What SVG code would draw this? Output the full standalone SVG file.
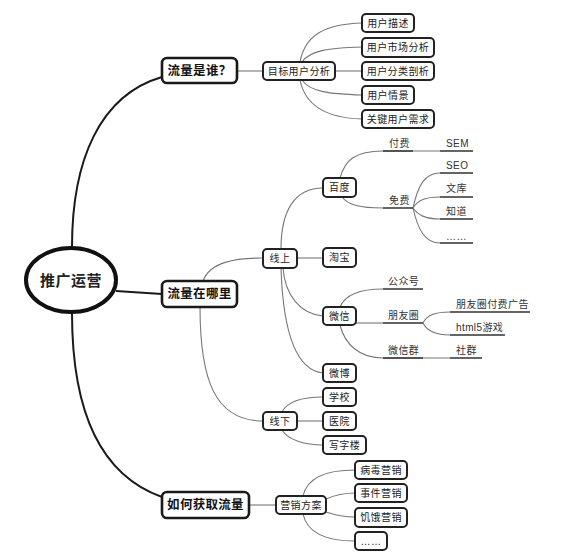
<svg xmlns="http://www.w3.org/2000/svg" width="562" height="560" viewBox="0 0 562 560">
<style>
.bg{fill:#ffffff}
.main{fill:none;stroke:#1a1a1a;stroke-width:2}
.c{fill:none;stroke:#777;stroke-width:1.1}
.ul{fill:none;stroke:#333;stroke-width:1.6}
.root{fill:#fff;stroke:#111;stroke-width:4}
.l1{fill:#fff;stroke:#1a1a1a;stroke-width:2.6}
.b{fill:#fff;stroke:#222;stroke-width:2}
text{font-family:"Liberation Sans","Noto Sans CJK SC",sans-serif;fill:#222;dominant-baseline:central}
.tr{font-size:15px;font-weight:bold;text-anchor:middle;letter-spacing:0.5px}
.t1{font-size:12.5px;font-weight:bold;text-anchor:middle;letter-spacing:0.3px;fill:#111}
.t{font-size:10px;text-anchor:middle;letter-spacing:0.4px}
.tl{font-size:10px;letter-spacing:0.4px;fill:#333}
</style>
<rect class="bg" x="0" y="0" width="562" height="560"/>
<g id="connectors">
<path class="main" d="M72,247 C72,160 100,95 162,77"/>
<path class="main" d="M116,291 L162,294"/>
<path class="main" d="M72,313 C72,410 100,475 162,497"/>
<path class="c" d="M237,71 L263,71"/>
<path class="c" d="M300,62 C305,35 325,24 362,23"/>
<path class="c" d="M302,62 C310,50 330,48 362,47"/>
<path class="c" d="M335,71 L362,71"/>
<path class="c" d="M302,80 C310,92 330,94 362,95"/>
<path class="c" d="M300,80 C305,105 325,118 362,119"/>
<path class="c" d="M203,281 C210,262 235,258 263,258"/>
<path class="c" d="M200,307 C200,380 215,421 263,421"/>
<path class="c" d="M281,249 C281,210 295,188 323,188"/>
<path class="c" d="M297,258 L323,258"/>
<path class="c" d="M283,268 C285,295 300,314 323,316"/>
<path class="c" d="M281,268 C283,330 295,370 323,373"/>
<path class="c" d="M282,412 C288,400 305,397 323,397"/>
<path class="c" d="M297,421 L323,421"/>
<path class="c" d="M282,430 C288,440 305,445 323,445"/>
<path class="c" d="M340,178 C345,160 355,151 383,151 L440,151"/>
<path class="c" d="M342,197 C348,205 360,208 383,208"/>
<path class="c" d="M413,208 C418,185 425,173 440,173"/>
<path class="c" d="M413,208 C418,200 425,197 440,197"/>
<path class="c" d="M413,208 C418,215 425,219 440,219"/>
<path class="c" d="M413,208 C418,230 425,243 440,243"/>
<path class="c" d="M340,307 C345,295 360,289 383,289"/>
<path class="c" d="M356,323 L383,323"/>
<path class="c" d="M423,323 C427,315 435,312 450,312"/>
<path class="c" d="M423,323 C427,331 435,335 450,335"/>
<path class="c" d="M340,325 C345,345 360,358 383,358 L450,358"/>
<path class="c" d="M249,505 L276,505"/>
<path class="c" d="M303,496 C307,478 325,470 355,470"/>
<path class="c" d="M326,499 C335,495 345,493 355,493"/>
<path class="c" d="M326,512 C335,515 345,517 355,517"/>
<path class="c" d="M303,514 C307,532 325,541 355,541"/>
<path class="ul" d="M383,151 L413,151 M440,151 L473,151"/>
<path class="ul" d="M383,208 L413,208 M440,173 L473,173 M440,197 L473,197 M440,219 L473,219 M440,243 L473,243"/>
<path class="ul" d="M383,289 L423,289 M383,323 L423,323 M450,312 L530,312 M450,335 L505,335 M383,358 L423,358 M450,358 L482,358"/>
</g>
<g id="root"><ellipse class="root" cx="71" cy="280" rx="45" ry="32"/><text class="tr" x="71" y="280">推广运营</text></g>
<g id="n-who"><rect class="l1" x="162" y="58" width="75" height="25" rx="5"/><text class="t1" x="199.5" y="70.5">流量是谁？</text></g>
<g id="n-where"><rect class="l1" x="162" y="281" width="75" height="26" rx="5"/><text class="t1" x="199.5" y="294">流量在哪里</text></g>
<g id="n-how"><rect class="l1" x="162" y="492" width="87" height="26" rx="5"/><text class="t1" x="205.5" y="505">如何获取流量</text></g>
<g id="n-target"><rect class="b" x="263" y="62" width="72" height="18" rx="4"/><text class="t" x="299" y="71">目标用户分析</text></g>
<g id="n-u1"><rect class="b" x="362" y="14" width="52" height="18" rx="4"/><text class="t" x="388" y="23">用户描述</text></g>
<g id="n-u2"><rect class="b" x="362" y="38" width="72" height="19" rx="4"/><text class="t" x="398" y="47.5">用户市场分析</text></g>
<g id="n-u3"><rect class="b" x="362" y="62" width="72" height="18" rx="4"/><text class="t" x="398" y="71">用户分类剖析</text></g>
<g id="n-u4"><rect class="b" x="362" y="86" width="52" height="18" rx="4"/><text class="t" x="388" y="95">用户情景</text></g>
<g id="n-u5"><rect class="b" x="362" y="110" width="72" height="18" rx="4"/><text class="t" x="398" y="119">关键用户需求</text></g>
<g id="n-online"><rect class="b" x="263" y="249" width="34" height="19" rx="4"/><text class="t" x="280" y="258.5">线上</text></g>
<g id="n-offline"><rect class="b" x="263" y="412" width="34" height="18" rx="4"/><text class="t" x="280" y="421">线下</text></g>
<g id="n-baidu"><rect class="b" x="323" y="178" width="33" height="19" rx="4"/><text class="t" x="339.5" y="187.5">百度</text></g>
<g id="n-taobao"><rect class="b" x="323" y="248" width="33" height="19" rx="4"/><text class="t" x="339.5" y="257.5">淘宝</text></g>
<g id="n-weixin"><rect class="b" x="323" y="307" width="33" height="18" rx="4"/><text class="t" x="339.5" y="316">微信</text></g>
<g id="n-weibo"><rect class="b" x="323" y="364" width="33" height="18" rx="4"/><text class="t" x="339.5" y="373">微博</text></g>
<g id="n-school"><rect class="b" x="323" y="388" width="33" height="18" rx="4"/><text class="t" x="339.5" y="397">学校</text></g>
<g id="n-hospital"><rect class="b" x="323" y="412" width="33" height="18" rx="4"/><text class="t" x="339.5" y="421">医院</text></g>
<g id="n-office"><rect class="b" x="323" y="436" width="43" height="18" rx="4"/><text class="t" x="344.5" y="445">写字楼</text></g>
<g id="n-paid"><text class="tl" x="389" y="143">付费</text></g>
<g id="n-sem"><text class="tl" x="446" y="143">SEM</text></g>
<g id="n-free"><text class="tl" x="389" y="200">免费</text></g>
<g id="n-seo"><text class="tl" x="446" y="165">SEO</text></g>
<g id="n-wenku"><text class="tl" x="446" y="188">文库</text></g>
<g id="n-zhidao"><text class="tl" x="446" y="211">知道</text></g>
<g id="n-more1"><text class="tl" x="446" y="236">……</text></g>
<g id="n-gzh"><text class="tl" x="388" y="281">公众号</text></g>
<g id="n-pyq"><text class="tl" x="388" y="315">朋友圈</text></g>
<g id="n-pyqad"><text class="tl" x="456" y="304">朋友圈付费广告</text></g>
<g id="n-h5"><text class="tl" x="456" y="327">html5游戏</text></g>
<g id="n-wxq"><text class="tl" x="388" y="350">微信群</text></g>
<g id="n-sq"><text class="tl" x="456" y="350">社群</text></g>
<g id="n-plan"><rect class="b" x="276" y="496" width="50" height="18" rx="4"/><text class="t" x="301" y="505">营销方案</text></g>
<g id="n-m1"><rect class="b" x="355" y="461" width="52" height="18" rx="4"/><text class="t" x="381" y="470">病毒营销</text></g>
<g id="n-m2"><rect class="b" x="355" y="484" width="52" height="18" rx="4"/><text class="t" x="381" y="493">事件营销</text></g>
<g id="n-m3"><rect class="b" x="355" y="508" width="52" height="19" rx="4"/><text class="t" x="381" y="517.5">饥饿营销</text></g>
<g id="n-m4"><rect class="b" x="355" y="532" width="32" height="18" rx="4"/><text class="t" x="371" y="541">……</text></g>
</svg>
